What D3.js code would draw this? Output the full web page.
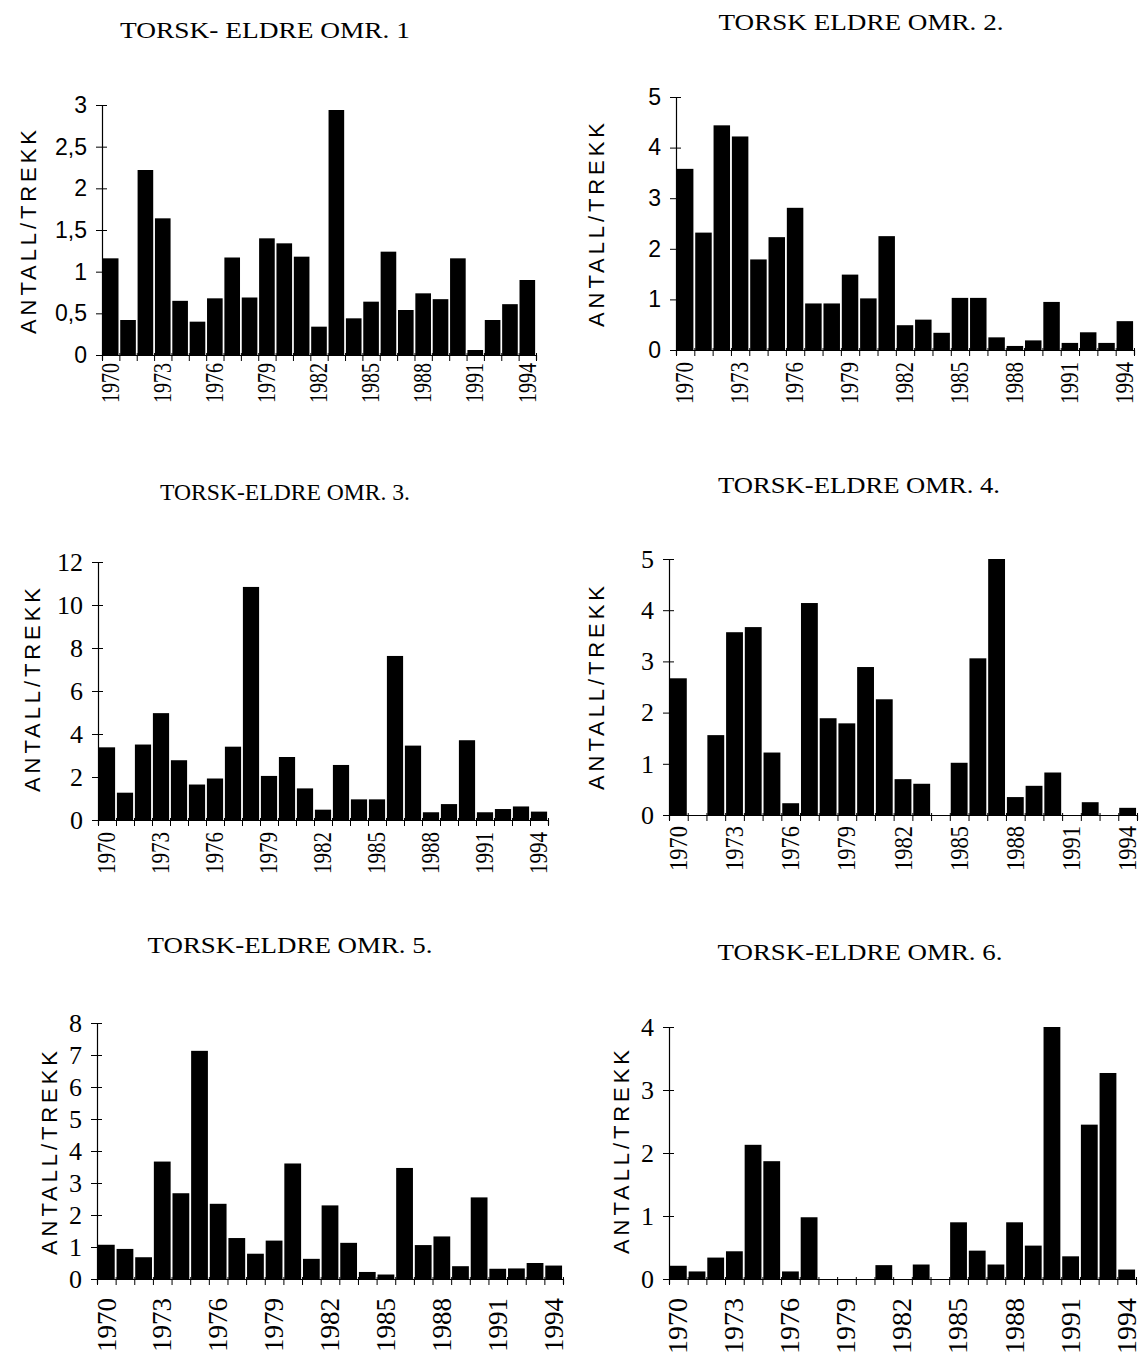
<!DOCTYPE html>
<html><head><meta charset="utf-8">
<script src="https://cdn.jsdelivr.net/npm/d3@7"></script>
<style>
body{margin:0;background:#fff;}
svg{display:block;}
</style></head>
<body>
<svg id="c" width="1141" height="1360"></svg>
<script>
const years = d3.range(1970, 1995);
const yearLabels = [1970,1973,1976,1979,1982,1985,1988,1991,1994];

const titles = ["TORSK- ELDRE OMR. 1","TORSK ELDRE OMR. 2.","TORSK-ELDRE OMR. 3.","TORSK-ELDRE OMR. 4.","TORSK-ELDRE OMR. 5.","TORSK-ELDRE OMR. 6."];
const yAxisTitle = "ANTALL/TREKK";

const omr1 = [1.16,0.42,2.22,1.64,0.65,0.40,0.68,1.17,0.69,1.40,1.34,1.18,0.34,2.94,0.44,0.64,1.24,0.54,0.74,0.67,1.16,0.06,0.42,0.61,0.90];
const omr2 = [3.58,2.32,4.44,4.22,1.79,2.23,2.81,0.92,0.92,1.49,1.02,2.25,0.49,0.60,0.34,1.03,1.03,0.25,0.08,0.19,0.95,0.14,0.35,0.14,0.57];
const omr3 = [3.38,1.27,3.51,4.97,2.78,1.65,1.93,3.41,10.84,2.05,2.93,1.47,0.48,2.56,0.96,0.96,7.63,3.46,0.36,0.74,3.71,0.36,0.51,0.63,0.39];
const omr4 = [2.67,0,1.56,3.57,3.67,1.22,0.23,4.14,1.89,1.79,2.89,2.26,0.70,0.61,0,1.02,3.06,5.0,0.35,0.57,0.83,0,0.25,0,0.14];
const omr5 = [1.07,0.94,0.68,3.67,2.68,7.13,2.35,1.28,0.79,1.20,3.61,0.63,2.30,1.13,0.22,0.14,3.47,1.06,1.33,0.40,2.55,0.32,0.33,0.50,0.42];
const omr6 = [0.21,0.12,0.34,0.44,2.13,1.87,0.12,0.98,0,0,0,0.22,0,0.23,0,0.90,0.45,0.23,0.90,0.53,4.0,0.36,2.45,3.27,0.15];

const yTicks1 = [0,0.5,1,1.5,2,2.5,3];
const yTicks2 = [0,1,2,3,4,5];
const yTicks3 = [0,2,4,6,8,10,12];
const yTicks4 = [0,1,2,3,4,5];
const yTicks5 = [0,1,2,3,4,5,6,7,8];
const yTicks6 = [0,1,2,3,4];

const seriesList = [omr1,omr2,omr3,omr4,omr5,omr6];
const tickList = [yTicks1,yTicks2,yTicks3,yTicks4,yTicks5,yTicks6];

const serif = "'Liberation Serif','Times New Roman',serif";
const sans = "'Liberation Sans',Arial,sans-serif";

// layout (positions only)
const layout = [
  {x0:102,x1:536,yt:105,y0:355,tx:265,ty:38,tw:290,ax:28,ay:232,tickFont:sans,tfs:23,lfs:25,ll:40,ly:363},
  {x0:676,x1:1134,yt:97,y0:350,tx:861,ty:30,tw:285,ax:596,ay:225,tickFont:sans,tfs:23,lfs:25,ll:42,ly:362},
  {x0:98,x1:548,yt:562,y0:820,tx:285,ty:500,tw:250,ax:32,ay:690,tickFont:serif,tfs:26,lfs:25,ll:42,ly:832},
  {x0:669,x1:1137,yt:559,y0:815,tx:859,ty:493,tw:282,ax:596,ay:688,tickFont:serif,tfs:26,lfs:26,ll:45,ly:826},
  {x0:97,x1:563,yt:1023,y0:1279,tx:290,ty:953,tw:285,ax:49,ay:1153,tickFont:serif,tfs:26,lfs:28,ll:54,ly:1298},
  {x0:669,x1:1136,yt:1027,y0:1279,tx:860,ty:960,tw:285,ax:621,ay:1152,tickFont:serif,tfs:26,lfs:27,ll:56,ly:1298}
];

const svg = d3.select("#c");
const fmt = v => String(v).replace(".", ",");

seriesList.forEach((vals, i) => {
  const L = layout[i];
  const ticks = tickList[i];
  const g = svg.append("g");
  const x = d3.scaleBand().domain(years).range([L.x0, L.x1]).paddingInner(0.1).paddingOuter(0.05);
  const xb = d3.scaleLinear().domain([0, years.length]).range([L.x0, L.x1]);
  const y = d3.scaleLinear().domain([0, d3.max(ticks)]).range([L.y0, L.yt]);

  // title
  g.append("text").attr("x", L.tx).attr("y", L.ty).attr("text-anchor","middle")
    .attr("font-family", serif).attr("font-size", 24)
    .attr("textLength", L.tw).attr("lengthAdjust","spacingAndGlyphs")
    .text(titles[i]);

  // y-axis title
  g.append("text").attr("transform", `translate(${L.ax},${L.ay}) rotate(-90)`)
    .attr("text-anchor","middle").attr("dy","0.35em")
    .attr("font-family", sans).attr("font-size", 22)
    .attr("textLength", 204).attr("lengthAdjust","spacing")
    .text(yAxisTitle);

  // bars
  g.append("g").selectAll("rect").data(vals.map((v,k)=>({year:years[k], v})))
    .join("rect")
    .attr("x", d => x(d.year)).attr("width", x.bandwidth())
    .attr("y", d => y(d.v)).attr("height", d => L.y0 - y(d.v))
    .attr("fill", "#000");

  // x boundary ticks
  const xt = g.append("g").attr("transform", `translate(0,${L.y0})`)
    .call(d3.axisBottom(xb).tickValues(d3.range(years.length+1)).tickFormat("").tickSizeOuter(0).tickSize(5));
  xt.select(".domain").attr("stroke","#000").attr("stroke-width",1.2);
  xt.selectAll(".tick line").attr("y1",-2).attr("y2",6).attr("stroke","#000");

  // x labels
  const xl = g.append("g").attr("transform", `translate(0,${L.ly})`)
    .call(d3.axisBottom(x).tickValues(yearLabels).tickSize(0).tickPadding(0));
  xl.select(".domain").remove();
  xl.selectAll(".tick text")
    .attr("transform","rotate(-90)").attr("text-anchor","end")
    .attr("x",0).attr("y",0).attr("dy","0.33em")
    .attr("font-family", serif).attr("font-size", L.lfs).attr("fill","#000")
    .attr("textLength", L.ll).attr("lengthAdjust","spacingAndGlyphs");

  // y axis
  const ya = g.append("g").attr("transform", `translate(${L.x0},0)`)
    .call(d3.axisLeft(y).tickValues(ticks).tickFormat(fmt).tickSizeOuter(0).tickSize(6).tickPadding(9));
  ya.select(".domain").attr("stroke","#000").attr("stroke-width",1.2);
  ya.selectAll(".tick line").attr("x1",-6).attr("x2",5).attr("stroke","#000");
  ya.selectAll(".tick text").attr("font-family", L.tickFont).attr("font-size", L.tfs).attr("fill","#000");
});
</script>
</body></html>
